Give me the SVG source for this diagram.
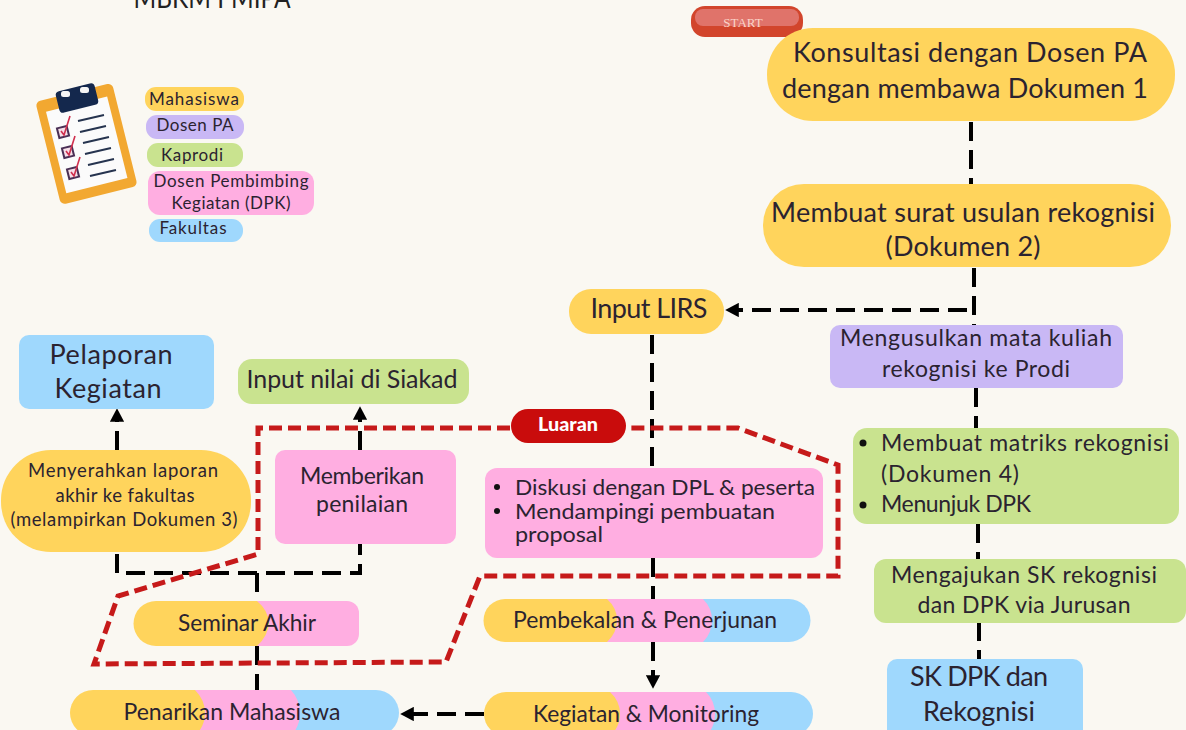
<svg xmlns="http://www.w3.org/2000/svg" width="1186" height="730" viewBox="0 0 1186 730">
<style>
text{font-family:"Lato","Noto Sans",sans-serif;fill:#2b2330;text-anchor:middle}
.t25{font-size:27px}.t24{font-size:25px}.t22{font-size:23px}.t21{font-size:22px}.t20{font-size:22.500px}.t18{font-size:18.500px}.t16{font-size:17px}
.l{text-anchor:start}
.y{fill:#ffd45c}.v{fill:#c9b8f5}.g{fill:#c9e38f}.p{fill:#ffaee1}.b{fill:#9fd8fd}
.k{fill:none;stroke:#000;stroke-width:4;stroke-dasharray:19 9}
.r{fill:none;stroke:#c61a1a;stroke-width:5;stroke-dasharray:13 6}
</style>
<defs><marker id="ah" markerWidth="3.4" markerHeight="3.6" refX="0.2" refY="1.8" orient="auto"><path d="M0 0L3.4 1.8L0 3.6Z" fill="#000"/></marker></defs>
<rect width="1186" height="730" fill="#faf8f2"/>
<text x="212" y="8" font-size="28" textLength="157" lengthAdjust="spacingAndGlyphs" style="fill:#222">MBKM FMIPA</text>

<g id="clipboard">
<rect x="47" y="91" width="79" height="106" rx="5" fill="#f2a831" transform="rotate(-14 86 144)"/>
<rect x="55" y="103" width="63" height="84" fill="#fbfbfb" transform="rotate(-14 86 144)"/>
<rect x="57" y="87" width="40" height="22" rx="4" fill="#14284d" transform="rotate(-14 77 98)"/>
<rect x="61" y="91" width="9" height="6" rx="2.500" fill="#f5f5f5"/><rect x="80" y="87" width="9" height="6" rx="2.500" fill="#f5f5f5"/>
<g fill="none" stroke="#26344f" stroke-width="2"><path d="M78 121l26-6M80 132l26-6M83 143l26-6M85 154l26-6M88 165l26-6M90 176l26-6"/></g>
<g fill="#f6dfe8" stroke="#4a2f55" stroke-width="2"><rect x="58" y="127" width="10" height="10" transform="rotate(-14 63 132)"/><rect x="63" y="147" width="10" height="10" transform="rotate(-14 68 152)"/><rect x="68" y="168" width="10" height="10" transform="rotate(-14 73 173)"/></g>
<g fill="none" stroke="#d0304f" stroke-width="1.600"><path d="M61 131l3 4l6-19M66 151l3 4l6-19M71 172l3 4l6-19"/></g>
</g>

<g id="legend-mahasiswa"><rect class="y" x="145" y="87" width="99" height="24" rx="11"/><text class="t16" x="194" y="105" textLength="90">Mahasiswa</text></g>
<g id="legend-dosen-pa"><rect class="v" x="146" y="115" width="98" height="24" rx="11"/><text class="t16" x="195" y="131" textLength="77">Dosen PA</text></g>
<g id="legend-kaprodi"><rect class="g" x="147" y="143" width="96" height="24" rx="11"/><text class="t16" x="192" y="161" textLength="62">Kaprodi</text></g>
<g id="legend-dpk"><rect class="p" x="148" y="171" width="166" height="44" rx="12"/><text class="t16" x="231" y="187" textLength="155">Dosen Pembimbing</text><text class="t16" x="231" y="209" textLength="119">Kegiatan (DPK)</text></g>
<g id="legend-fakultas"><rect class="b" x="149" y="219" width="94" height="23" rx="11"/><text class="t16" x="193" y="234" textLength="67">Fakultas</text></g>

<g id="connectors">
<path class="k" d="M971 122V185"/>
<path class="k" d="M974 268V325"/>
<path class="k" d="M967 310H738" marker-end="url(#ah)"/>
<path class="k" d="M976 388V428"/>
<path class="k" d="M978 524V560"/>
<path class="k" d="M979 622V659"/>
<path class="k" d="M652 335V468"/>
<path class="k" d="M653 558V599"/>
<path class="k" d="M653 642V676" stroke-dasharray="14 3 30 0" marker-end="url(#ah)"/>
<path class="k" d="M484 714H413" stroke-dasharray="3 3 19 6 19 6 30 0" marker-end="url(#ah)"/>
<path class="k" d="M117 450V421" stroke-dasharray="14 3 30 0" marker-end="url(#ah)"/>
<path class="k" d="M360 450V419" stroke-dasharray="14 3 30 0" marker-end="url(#ah)"/>
<path class="k" d="M117 554V573H360V544"/>
<path class="k" d="M257 573V601"/>
<path class="k" d="M257 646V690"/>
</g>

<g id="node-start">
<rect x="691" y="6" width="112" height="31" rx="14" fill="#d2452c"/>
<rect x="695" y="9" width="104" height="17" rx="8" fill="#e0736a"/>
<text x="743" y="27" font-size="13" style="font-family:'Liberation Serif',serif;fill:#fbd3c8">START</text>
</g>
<g id="node-konsultasi"><rect class="y" x="767" y="28" width="408" height="93" rx="46"/><text class="t25" x="970" y="62" textLength="354">Konsultasi dengan Dosen PA</text><text class="t25" x="965" y="98" textLength="366">dengan membawa Dokumen 1</text></g>
<g id="node-surat"><rect class="y" x="763" y="184" width="408" height="83" rx="41"/><text class="t25" x="963" y="222" textLength="384">Membuat surat usulan rekognisi</text><text class="t25" x="963" y="256" textLength="155">(Dokumen 2)</text></g>
<g id="node-lirs"><rect class="y" x="569" y="289" width="155" height="45" rx="22"/><text class="t25" x="649" y="318" textLength="117">Input LIRS</text></g>
<g id="node-mengusulkan"><rect class="v" x="830" y="325" width="293" height="63" rx="10"/><text class="t22" x="976" y="346" textLength="272">Mengusulkan mata kuliah</text><text class="t22" x="976" y="377" textLength="188">rekognisi ke Prodi</text></g>
<g id="node-matriks"><rect class="g" x="853" y="428" width="326" height="96" rx="14"/>
<circle cx="863" cy="443" r="3.500" fill="#111"/><circle cx="863" cy="505" r="3.500" fill="#111"/>
<text class="t22 l" x="881" y="451" textLength="288">Membuat matriks rekognisi</text><text class="t22 l" x="881" y="482" textLength="138">(Dokumen 4)</text><text class="t22 l" x="881" y="512" textLength="150">Menunjuk DPK</text></g>
<g id="node-sk-jurusan"><rect class="g" x="874" y="559" width="312" height="64" rx="12"/><text class="t22" x="1024" y="583" textLength="266">Mengajukan SK rekognisi</text><text class="t22" x="1024" y="613" textLength="213">dan DPK via Jurusan</text></g>
<g id="node-sk-dpk"><rect class="b" x="887" y="659" width="196" height="80" rx="10"/><text class="t25" x="979" y="686" textLength="138">SK DPK dan</text><text class="t25" x="979" y="721" textLength="112">Rekognisi</text></g>

<g id="node-pelaporan"><rect class="b" x="19" y="335" width="195" height="74" rx="10"/><text class="t25" x="111" y="364" textLength="123">Pelaporan</text><text class="t25" x="108" y="398" textLength="107">Kegiatan</text></g>
<g id="node-input-nilai"><rect class="g" x="238" y="359" width="231" height="45" rx="14"/><text class="t24" x="352" y="388" textLength="211">Input nilai di Siakad</text></g>
<g id="node-laporan"><rect class="y" x="1" y="450" width="250" height="102" rx="50"/><text class="t18" x="123" y="477" textLength="190">Menyerahkan laporan</text><text class="t18" x="125" y="502" textLength="139">akhir ke fakultas</text><text class="t18" x="124" y="526" textLength="227">(melampirkan Dokumen 3)</text></g>
<g id="node-penilaian"><rect class="p" x="275" y="450" width="181" height="94" rx="10"/><text class="t22" x="362" y="484" textLength="124">Memberikan</text><text class="t22" x="362" y="512" textLength="92">penilaian</text></g>
<g id="node-diskusi"><rect class="p" x="485" y="468" width="338" height="90" rx="12"/>
<circle cx="497" cy="487" r="3" fill="#111"/><circle cx="497" cy="511" r="3" fill="#111"/>
<text class="t21 l" x="515" y="495" textLength="300" lengthAdjust="spacingAndGlyphs">Diskusi dengan DPL &amp; peserta</text><text class="t21 l" x="515" y="519" textLength="260" lengthAdjust="spacingAndGlyphs">Mendampingi pembuatan</text><text class="t21 l" x="515" y="542" textLength="88" lengthAdjust="spacingAndGlyphs">proposal</text></g>

<g id="node-seminar"><path class="p" d="M200 601H347a12 12 0 0 1 12 12V634a12 12 0 0 1 -12 12H200Z"/><path class="y" d="M156 601H257Q268 610 269 623Q268 636 257 646H156a22.500 22.500 0 0 1 0 -45Z"/><text class="t20" x="247" y="631" textLength="138" lengthAdjust="spacingAndGlyphs">Seminar Akhir</text></g>
<g id="node-pembekalan"><path class="b" d="M600 599H789a21.500 21.500 0 0 1 0 43H600Z"/><path class="p" d="M550 599H703Q712 608 712 620Q712 633 703 642H550Z"/><path class="y" d="M505 599H607Q617 608 617 620Q617 633 607 642H505a21.500 21.500 0 0 1 0 -43Z"/><text class="t20" x="645" y="628" textLength="264" lengthAdjust="spacingAndGlyphs">Pembekalan &amp; Penerjunan</text></g>
<g id="node-kegiatan"><path class="b" d="M600 692H791a22 22 0 0 1 0 44H600Z"/><path class="p" d="M550 692H706Q715 701 715 714Q715 727 706 736H550Z"/><path class="y" d="M506 692H610Q620 701 620 714Q620 727 610 736H506a22 22 0 0 1 0 -44Z"/><text class="t20" x="646" y="722" textLength="226" lengthAdjust="spacingAndGlyphs">Kegiatan &amp; Monitoring</text></g>
<g id="node-penarikan"><path class="b" d="M200 690H376a23 23 0 0 1 0 46H200Z"/><path class="p" d="M150 690H291Q300 700 300 713Q300 726 291 736H150Z"/><path class="y" d="M93 690H195Q205 700 205 713Q205 726 195 736H93a23 23 0 0 1 0 -46Z"/><text class="t20" x="232" y="720" textLength="217" lengthAdjust="spacingAndGlyphs">Penarikan Mahasiswa</text></g>

<g id="outcome-boundary">
<path class="r" d="M510 428H258V554L118 596L94 664L446 662L480 576H838V465L738 428H628"/>
<rect x="511" y="409" width="115" height="34" rx="17" fill="#c90c0c"/>
<text x="568" y="431" font-size="18" font-weight="900" style="fill:#fff" textLength="60" lengthAdjust="spacingAndGlyphs">Luaran</text>
</g>
</svg>
